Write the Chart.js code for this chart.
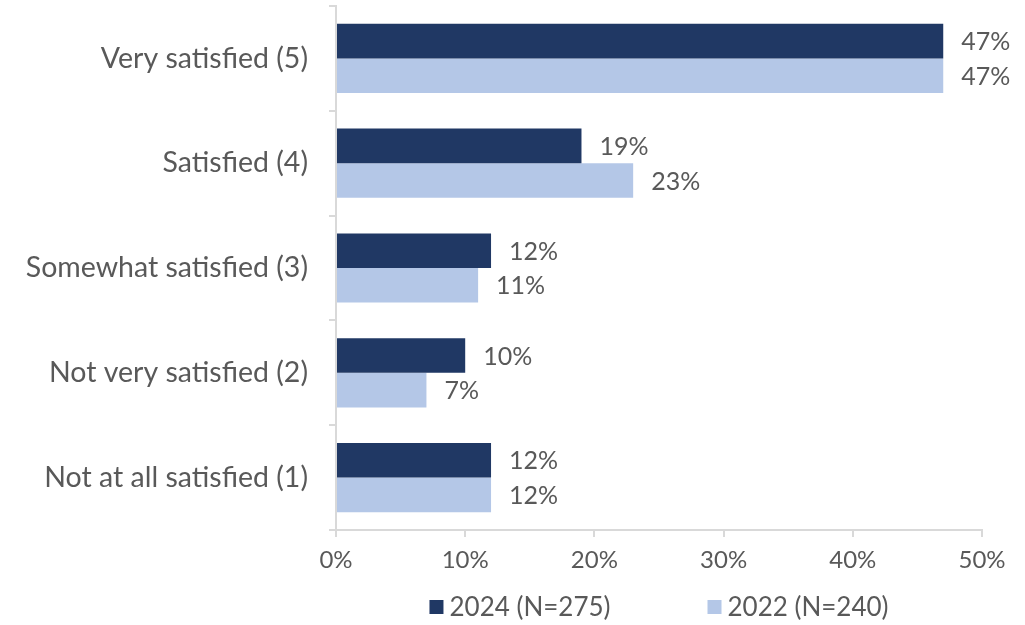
<!DOCTYPE html>
<html>
<head>
<meta charset="utf-8">
<script src="https://cdn.jsdelivr.net/npm/chart.js@4.4.0/dist/chart.umd.min.js"></script>
<style>
    html, body { margin: 0; padding: 0; background: #fff; }
    #wrap { width: 1025px; height: 625px; position: relative; }
</style>
</head>
<body>
<div id="wrap"><canvas id="satisfaction"></canvas></div>
<script>
const categories = [
    'Very satisfied (5)',
    'Satisfied (4)',
    'Somewhat satisfied (3)',
    'Not very satisfied (2)',
    'Not at all satisfied (1)'
];
const seriesNames = ['2024 (N=275)', '2022 (N=240)'];
const values2024 = [47, 19, 12, 10, 12];
const values2022 = [47, 23, 11, 7, 12];
const xTicks = [0, 10, 20, 30, 40, 50];

const textColor = '#595959';
const axisColor = '#d9d9d9';
const fontFamily = 'Lato, "DejaVu Sans", sans-serif';

// draws the % at the end of every bar
const barLabels = {
    id: 'barLabels',
    afterDatasetsDraw(chart) {
        let ctx = chart.ctx;
        ctx.save();
        ctx.font = '25px ' + fontFamily;
        ctx.fillStyle = textColor;
        ctx.textAlign = 'left';
        ctx.textBaseline = 'middle';
        chart.data.datasets.forEach((ds, di) => {
            let meta = chart.getDatasetMeta(di);
            meta.data.forEach((bar, i) => {
                ctx.fillText(ds.data[i] + '%', bar.x + 18, bar.y + 1);
            });
        });
        ctx.restore();
    }
};

// legend at the bottom, with the wide gap between the two entries
const bottomLegend = {
    id: 'bottomLegend',
    afterDraw(chart) {
        let ctx = chart.ctx;
        let area = chart.chartArea;
        ctx.save();
        ctx.font = '26px ' + fontFamily;
        ctx.textBaseline = 'middle';
        ctx.textAlign = 'left';
        let box = 14, boxGap = 6, itemGap = 97;
        let items = chart.data.datasets.map(ds => ({
            text: ds.label,
            color: ds.backgroundColor,
            w: box + boxGap + ctx.measureText(ds.label).width
        }));
        let total = items.reduce((s, it) => s + it.w, 0) + itemGap * (items.length - 1);
        let x = (area.left + area.right) / 2 - total / 2;
        let y = 607;
        items.forEach(it => {
            ctx.fillStyle = it.color;
            ctx.fillRect(x, y - box / 2, box, box);
            ctx.fillStyle = textColor;
            ctx.fillText(it.text, x + box + boxGap, y + 1);
            x += it.w + itemGap;
        });
        ctx.restore();
    }
};

const ctx = document.getElementById('satisfaction');

const myChart = new Chart(ctx, {
    type: 'bar',
    data: {
        labels: categories,
        datasets: [{
            label: seriesNames[0],
            data: values2024,
            backgroundColor: '#203864',
            categoryPercentage: 0.66,
            barPercentage: 1.0
        }, {
            label: seriesNames[1],
            data: values2022,
            backgroundColor: '#b4c7e7',
            categoryPercentage: 0.66,
            barPercentage: 1.0
        }]
    },
    options: {
        indexAxis: 'y',
        responsive: true,
        maintainAspectRatio: false,
        animation: false,
        layout: {
            padding: { top: 6, right: 43, bottom: 45, left: 0 }
        },
        plugins: {
            tooltip: { enabled: false },
            legend: { display: false }
        },
        scales: {
            x: {
                min: 0,
                max: 50,
                afterBuildTicks: (scale) => {
                    scale.ticks = xTicks.map(v => ({ value: v }));
                },
                afterFit: (scale) => {
                    scale.height = 50;
                    scale.paddingLeft = 0;
                    scale.paddingRight = 0;
                },
                border: { color: axisColor, width: 2 },
                grid: {
                    drawOnChartArea: false,
                    color: axisColor,
                    lineWidth: 2,
                    tickLength: 7
                },
                ticks: {
                    color: textColor,
                    font: { family: fontFamily, size: 24 },
                    padding: 9,
                    maxRotation: 0,
                    callback: (v) => v + '%'
                }
            },
            y: {
                afterFit: (scale) => {
                    scale.width = 336;
                    scale.paddingTop = 0;
                    scale.paddingBottom = 0;
                },
                border: { color: axisColor, width: 2 },
                grid: {
                    drawOnChartArea: false,
                    color: axisColor,
                    lineWidth: 2,
                    tickLength: 7,
                    offset: true
                },
                ticks: {
                    color: textColor,
                    font: { family: fontFamily, size: 28.5 },
                    padding: 21
                }
            }
        }
    },
    plugins: [barLabels, bottomLegend]
});
</script>
</body>
</html>
